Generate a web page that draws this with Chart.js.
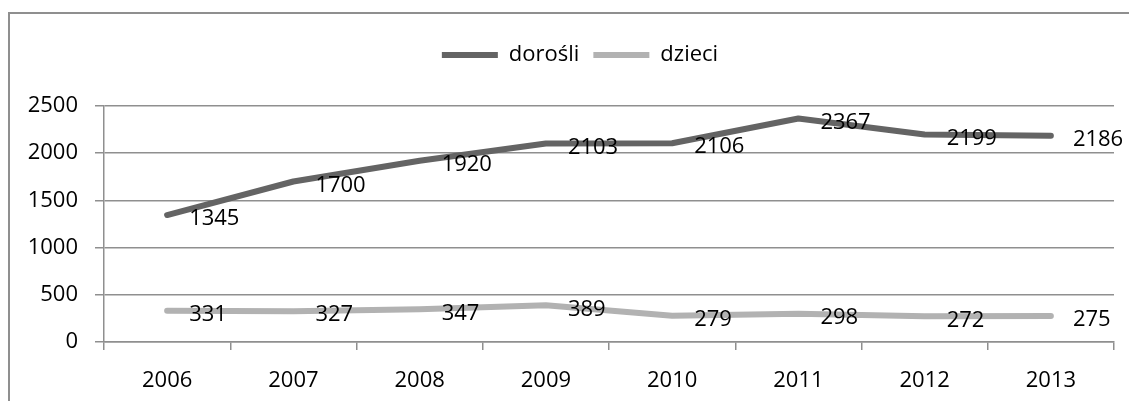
<!DOCTYPE html>
<html>
<head>
<meta charset="utf-8">
<script src="https://cdn.jsdelivr.net/npm/chart.js@4"></script>
<style>
    html, body { margin: 0; padding: 0; background: #fff; }
    #wrap { position: relative; width: 1129px; height: 401px; overflow: hidden; }
    #frame {
        position: absolute; left: 8px; top: 12px; width: 1130px; height: 400px;
        border-top: 2px solid #8f8f8f; border-left: 2px solid #8f8f8f;
    }
    #chart { position: absolute; left: 0; top: 0; }
</style>
</head>
<body>
<div id="wrap">
    <div id="frame"></div>
    <canvas id="chart" width="1129" height="401"></canvas>
</div>
<script>
    const years = ["2006", "2007", "2008", "2009", "2010", "2011", "2012", "2013"];
    const dorosli = [1345, 1700, 1920, 2103, 2106, 2367, 2199, 2186];
    const dzieci = [331, 327, 347, 389, 279, 298, 272, 275];
    const yTicks = [0, 500, 1000, 1500, 2000, 2500];

    const FONT = "'Open Sans', sans-serif";
    const GRID = "#8f8f8f";

    // value labels to the right of every point (Excel "right" position)
    const valueLabels = {
        id: "valueLabels",
        afterDatasetsDraw(chart) {
            const ctx = chart.ctx;
            ctx.save();
            ctx.font = "22px " + FONT;
            ctx.fillStyle = "#000";
            ctx.textAlign = "left";
            ctx.textBaseline = "middle";
            chart.data.datasets.forEach((ds, i) => {
                chart.getDatasetMeta(i).data.forEach((pt, j) => {
                    ctx.fillText(String(ds.data[j]), pt.x + 22, pt.y + 4);
                });
            });
            ctx.restore();
        },
    };

    // more room under the legend, and centre it over the plot like the original
    const legendTweak = {
        id: "legendTweak",
        beforeLayout(chart) {
            const lg = chart.legend;
            if (!lg || lg._patched) return;
            const fit = lg.fit;
            const draw = lg.draw;
            lg.fit = function () {
                fit.call(this);
                this.height += 30;
            };
            lg.draw = function () {
                this.ctx.save();
                this.ctx.translate(23, 0);
                draw.call(this);
                this.ctx.restore();
            };
            lg._patched = true;
        },
    };

    new Chart(document.getElementById("chart"), {
        type: "line",
        data: {
            labels: years,
            datasets: [
                {
                    label: "dorośli",
                    data: dorosli,
                    borderColor: "#646464",
                    backgroundColor: "#646464",
                    borderWidth: 6,
                    borderCapStyle: "round",
                    borderJoinStyle: "round",
                    pointRadius: 0,
                    pointStyle: "line",
                    tension: 0,
                },
                {
                    label: "dzieci",
                    data: dzieci,
                    borderColor: "#b2b2b2",
                    backgroundColor: "#b2b2b2",
                    borderWidth: 6,
                    borderCapStyle: "round",
                    borderJoinStyle: "round",
                    pointRadius: 0,
                    pointStyle: "line",
                    tension: 0,
                },
            ],
        },
        options: {
            responsive: false,
            animation: false,
            events: [],
            layout: { padding: { top: 30, right: 15, bottom: 0, left: 0 } },
            plugins: {
                legend: {
                    position: "top",
                    labels: {
                        usePointStyle: true,
                        pointStyleWidth: 56,
                        boxHeight: 6,
                        padding: 14,
                        color: "#000",
                        font: { family: FONT, size: 22 },
                    },
                },
                tooltip: { enabled: false },
            },
            scales: {
                x: {
                    offset: true,
                    grid: {
                        offset: true,
                        drawOnChartArea: false,
                        drawTicks: true,
                        tickLength: 8,
                        color: GRID,
                        lineWidth: 1.5,
                    },
                    border: { color: GRID, width: 1.5 },
                    ticks: { color: "#000", font: { family: FONT, size: 22 }, padding: 18 },
                    afterFit(scale) { scale.height = 59; },
                },
                y: {
                    min: 0,
                    max: 2500,
                    afterBuildTicks(scale) { scale.ticks = yTicks.map((v) => ({ value: v })); },
                    grid: { color: GRID, lineWidth: 1.5, tickLength: 9 },
                    border: { color: GRID, width: 1.5 },
                    ticks: {
                        color: "#000",
                        font: { family: FONT, size: 22 },
                        padding: 17,
                        callback: (v) => String(v),
                    },
                    afterFit(scale) { scale.width = 104; },
                },
            },
        },
        plugins: [valueLabels, legendTweak],
    });
</script>
</body>
</html>
